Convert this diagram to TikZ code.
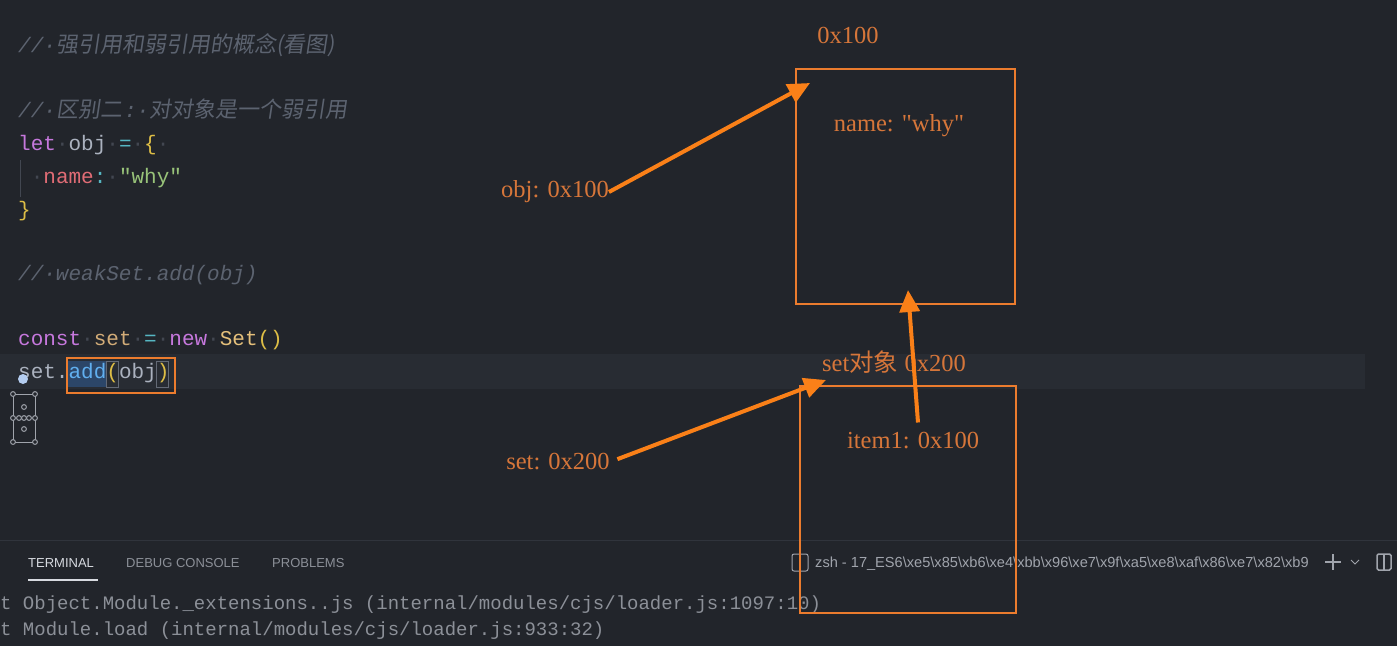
\documentclass[tikz,border=0pt]{standalone}
\usepackage{fontspec}
\usetikzlibrary{arrows.meta}
\setmainfont{Liberation Serif}
\newfontfamily\lblfont{Liberation Serif}
\newfontfamily\codefont{Liberation Mono}
\newfontfamily\uifont{Liberation Sans}
\newfontfamily\cjk{Noto Sans CJK SC}
\newfontfamily\cjkit{Noto Sans CJK SC}[FakeSlant=0.15]
\definecolor{editorbg}{RGB}{34,37,43}
\definecolor{curline}{RGB}{40,44,51}
\definecolor{sepline}{RGB}{48,52,60}
\definecolor{plain}{RGB}{171,178,191}
\definecolor{cmt}{RGB}{92,99,112}
\definecolor{wsdot}{RGB}{66,71,81}
\definecolor{brkbox}{RGB}{100,106,118}
\definecolor{kw}{RGB}{198,120,221}
\definecolor{op}{RGB}{86,182,194}
\definecolor{brk}{RGB}{222,190,70}
\definecolor{prop}{RGB}{224,108,117}
\definecolor{str}{RGB}{152,195,121}
\definecolor{cvar}{RGB}{210,172,120}
\definecolor{cls}{RGB}{229,192,123}
\definecolor{fn}{RGB}{97,175,239}
\definecolor{cursorc}{RGB}{180,205,240}
\definecolor{selbg}{RGB}{44,70,104}
\definecolor{lblorange}{RGB}{214,118,58}
\definecolor{boxorange}{RGB}{236,124,46}
\definecolor{arrorange}{RGB}{250,128,24}
\definecolor{termgray}{RGB}{140,144,152}
\definecolor{tabact}{RGB}{215,218,224}
\definecolor{tabgray}{RGB}{140,144,152}
\definecolor{icongray}{RGB}{160,164,172}
\newcommand{\wsd}{\textcolor{wsdot}{·}}
\newcommand{\bsl}{\textbackslash}
\begin{document}
\begin{tikzpicture}[x=1pt,y=-1pt,
  code/.style={anchor=base west, inner sep=0pt, font=\codefont\fontsize{21}{25}\selectfont, text=plain},
  lbl/.style={inner sep=0pt, font=\lblfont\fontsize{24.5}{28}\selectfont, text=lblorange},
  membox/.style={draw=boxorange, line width=2.5pt, inner sep=0pt},
  arr/.style={draw=arrorange, line width=4pt, -{Triangle[length=22pt,width=20pt]}},
  tabtxt/.style={anchor=base west, inner sep=0pt, font=\uifont\fontsize{13}{15}\selectfont, text=tabgray},
  term/.style={anchor=base west, inner sep=0pt, font=\codefont\fontsize{19}{22}\selectfont, text=termgray},
  icon/.style={draw=icongray, line width=1pt},
  hl/.style={draw=boxorange, line width=2pt}
]
\useasboundingbox (0,0) rectangle (1397,646);
\fill[editorbg] (0,0) rectangle (1397,646);
% current line highlight
\fill[curline] (0,354) rectangle (1365,389);
% terminal separator
\draw[sepline, line width=1pt] (0,540) -- (1397,540);

% ---- code ----
\node[code] (c1) at (18,52) {\textcolor{cmt}{\itshape //·}\textcolor{cmt}{\cjkit\fontsize{22}{25}\selectfont 强引用和弱引用的概念(看图)}};
\node[code] (c2) at (18,117) {\textcolor{cmt}{\itshape //·}\textcolor{cmt}{\cjkit\fontsize{22}{25}\selectfont 区别二}\hspace{2pt}\textcolor{cmt}{\itshape :·}\textcolor{cmt}{\cjkit\fontsize{22}{25}\selectfont 对对象是一个弱引用}};
\node[code] (c3) at (18,150) {\textcolor{kw}{let}\wsd obj\wsd\textcolor{op}{=}\wsd\textcolor{brk}{\{}\wsd};
\draw[wsdot, line width=1pt] (20,160) -- (20,197);
\node[code] (c4) at (18,183) {\phantom{·}\wsd\textcolor{prop}{name}\textcolor{op}{:}\wsd\textcolor{str}{"why"}};
\node[code] (c5) at (18,216) {\textcolor{brk}{\}}};
\node[code] (c6) at (18,280) {\textcolor{cmt}{\itshape //·weakSet.add(obj)}};
\node[code] (c7) at (18,345) {\textcolor{kw}{const}\wsd\textcolor{cvar}{set}\wsd\textcolor{op}{=}\wsd\textcolor{kw}{new}\wsd\textcolor{cls}{Set}\textcolor{brk}{()}};
% selection + bracket match
\fill[selbg] (68,361) rectangle (106,387);
\draw[brkbox, line width=0.8pt] (106.5,361) rectangle (118.5,387);
\draw[brkbox, line width=0.8pt] (156.8,361) rectangle (168.8,387);
\node[code] (c8) at (18,378) {set.\textcolor{fn}{add}\textcolor{brk}{(}obj\textcolor{brk}{)}};
\draw[hl] (67,358) rectangle (175,393);
% cursor widgets
\fill[cursorc] (23,379) circle (5);
\draw[icon] (13,394) rectangle (35,442);
\foreach \p in {(13,394),(35,394),(13,442),(35,442),(13,418),(35,418),(24,407),(19,418),(29,418),(24,429),(24,418)}
  \draw[icon, fill=editorbg] \p circle (2.4);

% ---- terminal ----
\node[tabtxt, text=tabact] (t1) at (28,567) {TERMINAL};
\draw[tabact, line width=2pt] (28,580) -- (98,580);
\node[tabtxt] (t2) at (126,567) {DEBUG CONSOLE};
\node[tabtxt] (t3) at (272,567) {PROBLEMS};
\node[term] (l1) at (0,609) {t Object.Module.\_extensions..js (internal/modules/cjs/loader.js:1097:10)};
\node[term] (l2) at (0,635) {t Module.load (internal/modules/cjs/loader.js:933:32)};
\draw[icon, rounded corners=2pt] (792,554) rectangle (808,571);
\node[tabtxt, text=icongray, font=\uifont\fontsize{14.6}{16}\selectfont] (z) at (815,567) {zsh - 17\_ES6\bsl xe5\bsl x85\bsl xb6\bsl xe4\bsl xbb\bsl x96\bsl xe7\bsl x9f\bsl xa5\bsl xe8\bsl xaf\bsl x86\bsl xe7\bsl x82\bsl xb9};
\draw[icon, line width=1.5pt] (1325,562) -- (1341,562) (1333,554) -- (1333,570);
\draw[icon] (1351,560) -- (1355,564) -- (1359,560);
\draw[icon, line width=1.5pt, rounded corners=1.5pt] (1377,554) rectangle (1391,570);
\draw[icon, line width=1.5pt] (1384,554) -- (1384,570);

% ---- diagram ----
\node[membox, minimum width=219pt, minimum height=235pt] (objbox) at (905.5,186.5) {};
\node[membox, minimum width=216pt, minimum height=227pt] (setbox) at (908,499.5) {};
\node[lbl] (addr1) at (848,35) {0x100};
\node[lbl] (namev) at (899,126) {name: "why"};
\node[lbl] (objlbl) at (555,192) {obj: 0x100};
\node[lbl] (setobj) at (894,362) {set{\cjk 对象} 0x200};
\node[lbl] (setlbl) at (558,462) {set: 0x200};
\node[lbl] (itemlbl) at (913,441) {item1: 0x100};
\coordinate (objtip) at (810,83);
\coordinate (settip) at (826,380);
\coordinate (itemtip) at (908,290);
\draw[arr] (objlbl.east) -- (objtip);
\draw[arr, shorten <=8pt] (setlbl.east) -- (settip);
\draw[arr] ([xshift=5pt,yshift=10pt]itemlbl.north) -- (itemtip);
\end{tikzpicture}
\end{document}
